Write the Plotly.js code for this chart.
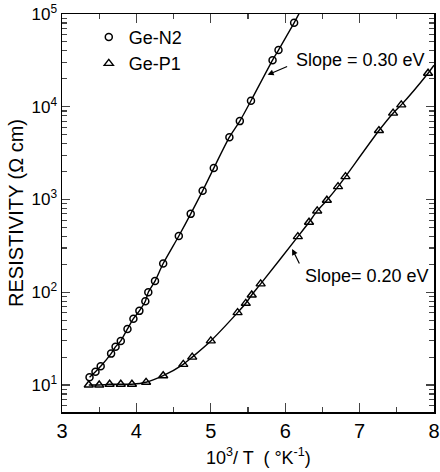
<!DOCTYPE html>
<html>
<head>
<meta charset="utf-8">
<script src="https://cdn.plot.ly/plotly-3.0.1.min.js"></script>
<style>html,body{margin:0;padding:0;background:#fff;}#chart{width:440px;height:472px;}</style>
</head>
<body>
<div id="chart"></div>
<script>
// Ge-N2 (circles)
const n2X = [3.37,3.45,3.52,3.66,3.72,3.79,3.88,3.96,4.04,4.12,4.16,4.25,4.36,4.57,4.73,4.89,5.04,5.25,5.39,5.54,5.83,5.91,6.12];
const n2Y = [12.1,13.9,15.9,21.8,25.9,29.9,40.2,51.9,63,80,100,132,204,404,700,1240,2180,4700,7000,11600,31800,40800,80300];
// Ge-P1 (triangles)
const p1X = [3.36,3.50,3.64,3.79,3.94,4.13,4.36,4.63,4.75,5.00,5.36,5.47,5.55,5.67,6.17,6.32,6.43,6.56,6.71,6.81,7.26,7.45,7.56,7.92];
const p1Y = [10.0,10.0,10.2,10.2,10.2,10.7,12.6,16.7,20.0,29.9,60.3,76,93.5,123,398,569,753,982,1377,1766,5540,8530,10470,23000];
// fitted-curve end points (curves run to the frame)
const n2CurveEndX = [6.2], n2CurveEndY = [106000];
const p1CurveEndX = [8.0], p1CurveEndY = [28000];
// labels
const seriesNames = ['Ge-N2', 'Ge-P1'];
const yTickVals = [10, 100, 1000, 10000, 100000];
const yTickText = ['10<sup>1</sup>','10<sup>2</sup>','10<sup>3</sup>','10<sup>4</sup>','10<sup>5</sup>'];
const xTickVals = [3,4,5,6,7,8];
const slopeLabels = ['Slope = 0.30 eV', 'Slope= 0.20 eV'];

const FONT = 'Liberation Sans, Arial, sans-serif';
const lineStyle = {color:'#000', width:1.4, shape:'spline', smoothing:0.6};

const traces = [
  {x: n2X.concat(n2CurveEndX), y: n2Y.concat(n2CurveEndY), mode:'lines', line: lineStyle, showlegend:false, hoverinfo:'skip'},
  {x: p1X.concat(p1CurveEndX), y: p1Y.concat(p1CurveEndY), mode:'lines', line: lineStyle, showlegend:false, hoverinfo:'skip'},
  {x: n2X, y: n2Y, mode:'markers', name: seriesNames[0],
   marker:{symbol:'circle-open', size:7, color:'#000', line:{width:1.5, color:'#000'}}, cliponaxis:false},
  {x: p1X, y: p1Y, mode:'markers', name: seriesNames[1],
   marker:{symbol:'triangle-up-open', size:8, color:'#000', line:{width:1.4, color:'#000'}}, cliponaxis:false}
];

const layout = {
  width:440, height:472,
  margin:{l:62, r:6, t:14, b:60},
  paper_bgcolor:'#fff', plot_bgcolor:'#fff',
  font:{family:FONT, color:'#000', size:18},
  showlegend:true,
  legend:{x:0.072, y:0.988, xanchor:'left', yanchor:'top', bgcolor:'rgba(0,0,0,0)',
          font:{size:18, family:FONT}, itemwidth:30, tracegroupgap:0},
  xaxis:{range:[3,8], tickmode:'array', tickvals:xTickVals, ticks:'inside', ticklen:9, tickwidth:1.3,
         showline:true, linewidth:1.5, linecolor:'#000', mirror:'ticks', showgrid:false, zeroline:false,
         tickfont:{size:20, family:FONT}, ticklabeloverflow:'allow', automargin:false,
         minor:{dtick:0.5, ticks:'inside', ticklen:5, tickwidth:1.2, showgrid:false}},
  yaxis:{type:'log', range:[0.709, 5], tickmode:'array', tickvals:yTickVals, ticktext:yTickText,
         ticks:'inside', ticklen:8, tickwidth:1.3, showline:true, linewidth:1.5, linecolor:'#000',
         mirror:'ticks', showgrid:false, zeroline:false, tickfont:{size:17, family:FONT},
         ticklabeloverflow:'allow', automargin:false,
         minor:{dtick:'D1', ticks:'inside', ticklen:5, tickwidth:1.1, showgrid:false},
         title:{text:'RESISTIVITY (Ω cm)', font:{size:20, family:FONT}, standoff:2}},
  annotations:[
    {xref:'paper', yref:'paper', x:0.527, y:-0.113, xanchor:'center', yanchor:'middle', showarrow:false,
     text:'10<sup>3</sup>/ T  ( °K<sup>-1</sup>)', font:{size:18, family:FONT}},
    {x:6.12, y:Math.log10(32000), xanchor:'left', yanchor:'middle', showarrow:false,
     text:slopeLabels[0], font:{size:18, family:FONT}},
    {x:5.764, y:Math.log10(22100), ax:21, ay:-9, text:'', showarrow:true, arrowhead:2, arrowsize:1, arrowwidth:1.2, arrowcolor:'#000'},
    {x:6.24, y:Math.log10(150), xanchor:'left', yanchor:'middle', showarrow:false,
     text:slopeLabels[1], font:{size:18, family:FONT}},
    {x:6.093, y:Math.log10(293), ax:8, ay:16, text:'', showarrow:true, arrowhead:2, arrowsize:1, arrowwidth:1.2, arrowcolor:'#000'}
  ]
};

Plotly.newPlot('chart', traces, layout, {displayModeBar:false, staticPlot:true});
</script>
</body>
</html>
